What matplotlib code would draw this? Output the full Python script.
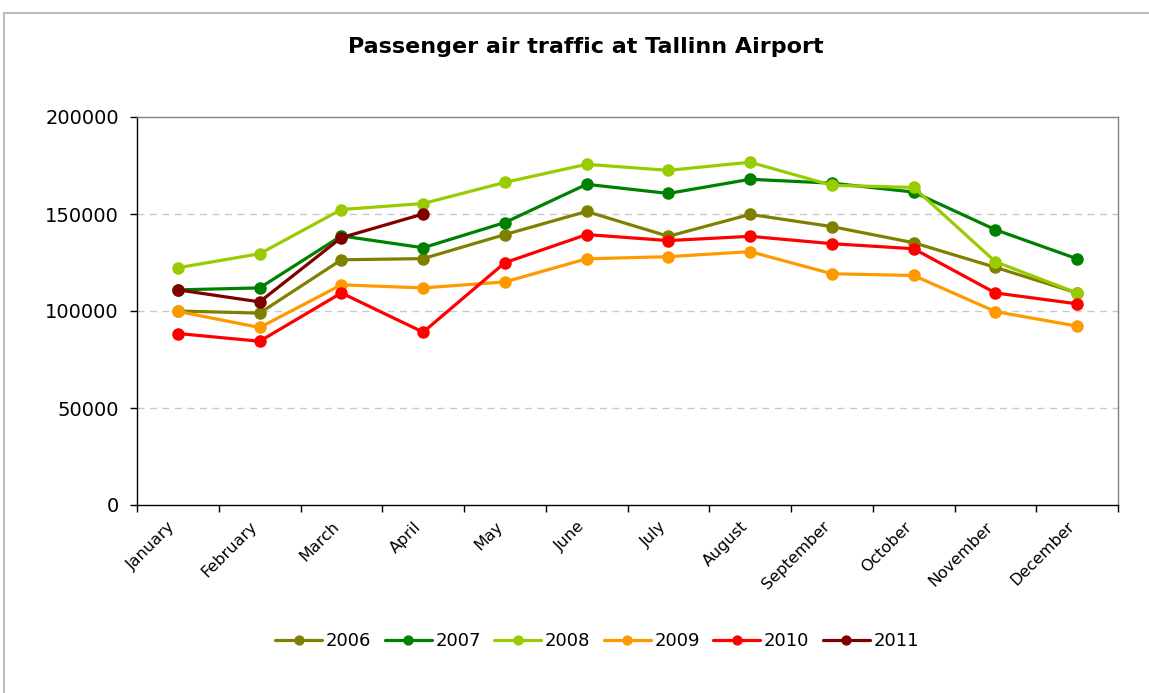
import matplotlib
matplotlib.use("Agg")
import matplotlib.pyplot as plt
from matplotlib.patches import Rectangle
from matplotlib.transforms import ScaledTranslation
import numpy as np

months = ["January", "February", "March", "April", "May", "June", "July",
          "August", "September", "October", "November", "December"]
years = ["2006", "2007", "2008", "2009", "2010", "2011"]

v2006 = [100000, 98900, 126400, 127000, 139400, 151300, 138500, 149800, 143500, 135200, 122500, 109300]
v2007 = [110900, 111900, 138700, 132600, 145600, 165300, 160600, 167900, 165900, 161300, 141900, 126900]
v2008 = [122300, 129500, 152300, 155400, 166300, 175600, 172500, 176700, 164800, 163700, 125400, 109300]
v2009 = [99800, 91500, 113500, 111900, 115000, 126900, 128000, 130600, 119200, 118300, 99700, 92200]
v2010 = [88400, 84400, 109300, 89100, 124900, 139400, 136300, 138500, 134700, 132100, 109300, 103700]
v2011 = [110900, 104700, 137800, 150000]

series = [v2006, v2007, v2008, v2009, v2010, v2011]
colors = ["#808000", "#008000", "#99CC00", "#FF9900", "#FF0000", "#800000"]

fig = plt.figure(figsize=(11.49, 6.93), dpi=100)
fig.patches.append(Rectangle((4/1149, -0.1), 1.2, 1 - 13/693 + 0.1,
                             transform=fig.transFigure, fill=False,
                             edgecolor="#BDBDBD", linewidth=1.5))
ax = fig.add_axes([137/1149, 1 - 505/693, (1118 - 137)/1149, (505 - 117)/693])

x = np.arange(len(months))
for yr, vals, c in zip(years, series, colors):
    ax.plot(x[:len(vals)], vals, color=c, linewidth=2.3, marker="o",
            markersize=8, label=yr, solid_capstyle="round")

ax.set_xlim(-0.5, 11.5)
ax.set_ylim(0, 200000)
ax.set_yticks([0, 50000, 100000, 150000, 200000])
ax.set_yticklabels(["0", "50000", "100000", "150000", "200000"], fontsize=14)
for yv in [50000, 100000, 150000]:
    ax.axhline(yv, color="#C8C8C8", linewidth=1, linestyle=(0, (5, 4)), zorder=0)

ax.set_xticks(np.arange(-0.5, 12, 1))
ax.set_xticklabels([])
ax.set_xticks(x, minor=True)
ax.set_xticklabels(months, minor=True, rotation=45, ha="right",
                   rotation_mode="anchor", fontsize=11.5)
ax.tick_params(axis="x", which="minor", length=0, pad=10)
ax.tick_params(axis="x", which="major", length=5, direction="out", width=1)
ax.tick_params(axis="y", length=5, direction="out", width=1, pad=8)
offset = ScaledTranslation(-10/100, 0, fig.dpi_scale_trans)
for lbl in ax.xaxis.get_minorticklabels():
    lbl.set_transform(lbl.get_transform() + offset)

for s in ["left", "bottom"]:
    ax.spines[s].set_color("#000000")
    ax.spines[s].set_linewidth(1)
for s in ["top", "right"]:
    ax.spines[s].set_color("#808080")
    ax.spines[s].set_linewidth(1)

fig.text(586/1149, 1 - 47/693, "Passenger air traffic at Tallinn Airport",
         ha="center", va="center", fontsize=16, fontweight="bold")

fig.legend(loc="center", bbox_to_anchor=(597/1149, 1 - 641/693), ncol=6,
           frameon=False, fontsize=13, handlelength=2.6, handletextpad=0.2,
           columnspacing=0.75, markerscale=0.8)

fig.savefig("out.png", dpi=100)
